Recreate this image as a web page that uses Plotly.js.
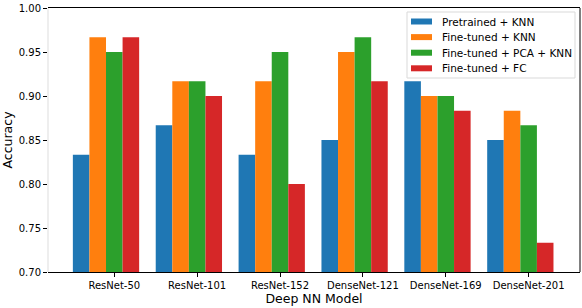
<!DOCTYPE html>
<html>
<head>
<meta charset="utf-8">
<script src="https://cdn.plot.ly/plotly-3.0.1.min.js"></script>
<style>html,body{margin:0;padding:0;background:#fff;}#chart{width:582px;height:308px;}</style>
</head>
<body>
<div id="chart"></div>
<script>
const categories = ["ResNet-50", "ResNet-101", "ResNet-152", "DenseNet-121", "DenseNet-169", "DenseNet-201"];
const seriesNames = ["Pretrained + KNN", "Fine-tuned + KNN", "Fine-tuned + PCA + KNN", "Fine-tuned + FC"];
const pretrainedKNN = [0.8333, 0.8667, 0.8333, 0.85, 0.9167, 0.85];
const finetunedKNN = [0.9667, 0.9167, 0.9167, 0.95, 0.90, 0.8833];
const finetunedPCAKNN = [0.95, 0.9167, 0.95, 0.9667, 0.90, 0.8667];
const finetunedFC = [0.9667, 0.90, 0.80, 0.9167, 0.8833, 0.7333];
const yTicks = [0.70, 0.75, 0.80, 0.85, 0.90, 0.95, 1.00];
const colors = ["#1f77b4", "#ff7f0e", "#2ca02c", "#d62728"];

const seriesValues = [pretrainedKNN, finetunedKNN, finetunedPCAKNN, finetunedFC];
const xIdx = categories.map((c, i) => i);
const traces = seriesValues.map((vals, k) => ({
  type: "bar",
  x: xIdx,
  y: vals,
  name: seriesNames[k],
  marker: {color: colors[k], line: {width: 0}},
  hoverinfo: "y"
}));

const font = {family: "DejaVu Sans, sans-serif", color: "#000"};

// Legend drawn as paper-space shapes/annotations (matplotlib-style wide swatches)
const plotL = 48, plotR = 580, plotT = 8, plotB = 272;
const px = x => (x - plotL) / (plotR - plotL);
const py = y => 1 - (y - plotT) / (plotB - plotT);
const legendShapes = [{
  type: "rect", xref: "paper", yref: "paper", layer: "above",
  x0: px(407), x1: px(575), y0: py(78), y1: py(12),
  fillcolor: "rgba(255,255,255,0.8)", line: {color: "#d9d9d9", width: 1}
}];
const legendAnn = [];
seriesNames.forEach((name, k) => {
  const cy = 21.5 + k * 15.6;
  legendShapes.push({
    type: "rect", xref: "paper", yref: "paper", layer: "above",
    x0: px(411), x1: px(432), y0: py(cy + 3), y1: py(cy - 3),
    fillcolor: colors[k], line: {width: 0}
  });
  legendAnn.push({
    xref: "paper", yref: "paper", x: px(440), y: py(cy),
    xanchor: "left", yanchor: "middle", showarrow: false,
    text: name, font: Object.assign({size: 10.5}, font)
  });
});

const layout = {
  width: 582, height: 308,
  margin: {l: 48, r: 2, t: 8, b: 36},
  paper_bgcolor: "#fff", plot_bgcolor: "#fff",
  barmode: "group", bargap: 0.2, bargroupgap: 0,
  showlegend: false,
  font: Object.assign({size: 10}, font),
  xaxis: {
    range: [-0.7, 5.72],
    tickmode: "array",
    tickvals: xIdx.map(i => i + 0.1),
    ticktext: categories,
    ticks: "outside", ticklen: 4, tickwidth: 1, tickcolor: "#000",
    showgrid: false, zeroline: false,
    showline: true, linecolor: "#000", linewidth: 1, mirror: true,
    tickfont: Object.assign({size: 10}, font),
    title: {text: "Deep NN Model", font: Object.assign({size: 12.5}, font), standoff: 4}
  },
  yaxis: {
    range: [0.70, 1.00],
    tickmode: "array",
    tickvals: yTicks,
    ticktext: yTicks.map(v => v.toFixed(2)),
    ticks: "outside", ticklen: 4, tickwidth: 1, tickcolor: "#000",
    showgrid: false, zeroline: false, showline: false,
    tickfont: Object.assign({size: 10}, font),
    title: {text: "Accuracy", font: Object.assign({size: 12.5}, font), standoff: 8}
  },
  shapes: [
    {type: "line", xref: "paper", yref: "paper", x0: 0, x1: 0, y0: 0, y1: 1, line: {color: "#e8e8e8", width: 1.5}},
    {type: "line", xref: "paper", yref: "paper", x0: 1, x1: 1, y0: 0, y1: 1, line: {color: "#000", width: 1}}
  ].concat(legendShapes),
  annotations: legendAnn
};

Plotly.newPlot("chart", traces, layout, {displayModeBar: false, staticPlot: true});
</script>
</body>
</html>
